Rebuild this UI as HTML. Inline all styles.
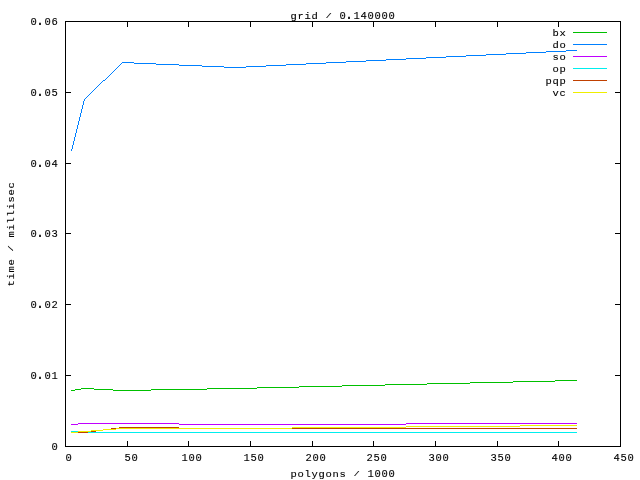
<!DOCTYPE html>
<html lang="en">
<head>
<meta charset="utf-8">
<title>grid / 0.140000</title>
<style>
html,body{margin:0;padding:0;background:#fff;width:640px;height:480px;overflow:hidden}
svg{position:absolute;left:0;top:0;display:block}
text{fill:#000;stroke:#000;white-space:pre}
.a{font-family:'Liberation Mono','DejaVu Sans Mono',monospace;font-size:10.5px;letter-spacing:0.6989px;stroke-width:0.12px}
.d{font-size:15px;stroke-width:0}
.n{font-family:'Liberation Mono','DejaVu Sans Mono',monospace;font-size:10.5px;letter-spacing:0.6989px;stroke-width:0.12px}
</style>
</head>
<body>
<svg width="640" height="480" viewBox="0 0 640 480">
<rect width="640" height="480" fill="#fff"/>
<g shape-rendering="crispEdges">
<g fill="#000"><rect x="65" y="21" width="556" height="1"/><rect x="65" y="446" width="556" height="1"/><rect x="65" y="21" width="1" height="426"/><rect x="620" y="21" width="1" height="426"/></g>
<g fill="#000"><rect x="127" y="441" width="1" height="6"/><rect x="127" y="21" width="1" height="6"/><rect x="188" y="441" width="1" height="6"/><rect x="188" y="21" width="1" height="6"/><rect x="250" y="441" width="1" height="6"/><rect x="250" y="21" width="1" height="6"/><rect x="312" y="441" width="1" height="6"/><rect x="312" y="21" width="1" height="6"/><rect x="373" y="441" width="1" height="6"/><rect x="373" y="21" width="1" height="6"/><rect x="435" y="441" width="1" height="6"/><rect x="435" y="21" width="1" height="6"/><rect x="497" y="441" width="1" height="6"/><rect x="497" y="21" width="1" height="6"/><rect x="558" y="441" width="1" height="6"/><rect x="558" y="21" width="1" height="6"/><rect x="65" y="375" width="6" height="1"/><rect x="615" y="375" width="6" height="1"/><rect x="65" y="304" width="6" height="1"/><rect x="615" y="304" width="6" height="1"/><rect x="65" y="233" width="6" height="1"/><rect x="615" y="233" width="6" height="1"/><rect x="65" y="163" width="6" height="1"/><rect x="615" y="163" width="6" height="1"/><rect x="65" y="92" width="6" height="1"/><rect x="615" y="92" width="6" height="1"/></g>
<g fill="#00c000"><rect x="573" y="32" width="34" height="1"/><rect x="71" y="390" width="4" height="1"/><rect x="75" y="389" width="6" height="1"/><rect x="81" y="388" width="13" height="1"/><rect x="94" y="389" width="19" height="1"/><rect x="113" y="390" width="38" height="1"/><rect x="151" y="389" width="56" height="1"/><rect x="207" y="388" width="50" height="1"/><rect x="257" y="387" width="42" height="1"/><rect x="299" y="386" width="43" height="1"/><rect x="342" y="385" width="43" height="1"/><rect x="385" y="384" width="42" height="1"/><rect x="427" y="383" width="43" height="1"/><rect x="470" y="382" width="43" height="1"/><rect x="513" y="381" width="42" height="1"/><rect x="555" y="380" width="22" height="1"/></g>
<g fill="#0080ff"><rect x="573" y="44" width="34" height="1"/><rect x="71" y="149" width="1" height="2"/><rect x="72" y="145" width="1" height="4"/><rect x="73" y="141" width="1" height="4"/><rect x="74" y="137" width="1" height="4"/><rect x="75" y="133" width="1" height="4"/><rect x="76" y="129" width="1" height="4"/><rect x="77" y="125" width="1" height="4"/><rect x="78" y="121" width="1" height="4"/><rect x="79" y="117" width="1" height="4"/><rect x="80" y="113" width="1" height="4"/><rect x="81" y="109" width="1" height="4"/><rect x="82" y="105" width="1" height="4"/><rect x="83" y="101" width="1" height="4"/><rect x="84" y="99" width="1" height="2"/><rect x="85" y="98" width="1" height="1"/><rect x="86" y="97" width="1" height="1"/><rect x="87" y="96" width="1" height="1"/><rect x="88" y="95" width="1" height="1"/><rect x="89" y="94" width="1" height="1"/><rect x="90" y="93" width="1" height="1"/><rect x="91" y="92" width="1" height="1"/><rect x="92" y="91" width="1" height="1"/><rect x="93" y="90" width="1" height="1"/><rect x="94" y="89" width="1" height="1"/><rect x="95" y="88" width="1" height="1"/><rect x="96" y="87" width="1" height="1"/><rect x="97" y="86" width="1" height="1"/><rect x="98" y="85" width="1" height="1"/><rect x="99" y="84" width="1" height="1"/><rect x="100" y="83" width="1" height="1"/><rect x="101" y="82" width="1" height="1"/><rect x="102" y="81" width="1" height="1"/><rect x="103" y="80" width="2" height="1"/><rect x="105" y="79" width="1" height="1"/><rect x="106" y="78" width="1" height="1"/><rect x="107" y="77" width="1" height="1"/><rect x="108" y="76" width="1" height="1"/><rect x="109" y="75" width="1" height="1"/><rect x="110" y="74" width="1" height="1"/><rect x="111" y="73" width="1" height="1"/><rect x="112" y="72" width="1" height="1"/><rect x="113" y="71" width="1" height="1"/><rect x="114" y="70" width="1" height="1"/><rect x="115" y="69" width="1" height="1"/><rect x="116" y="68" width="1" height="1"/><rect x="117" y="67" width="1" height="1"/><rect x="118" y="66" width="1" height="1"/><rect x="119" y="65" width="1" height="1"/><rect x="120" y="64" width="1" height="1"/><rect x="121" y="63" width="1" height="1"/><rect x="122" y="62" width="12" height="1"/><rect x="134" y="63" width="22" height="1"/><rect x="156" y="64" width="23" height="1"/><rect x="179" y="65" width="23" height="1"/><rect x="202" y="66" width="22" height="1"/><rect x="224" y="67" width="22" height="1"/><rect x="246" y="66" width="20" height="1"/><rect x="266" y="65" width="20" height="1"/><rect x="286" y="64" width="20" height="1"/><rect x="306" y="63" width="20" height="1"/><rect x="326" y="62" width="20" height="1"/><rect x="346" y="61" width="20" height="1"/><rect x="366" y="60" width="20" height="1"/><rect x="386" y="59" width="20" height="1"/><rect x="406" y="58" width="20" height="1"/><rect x="426" y="57" width="20" height="1"/><rect x="446" y="56" width="20" height="1"/><rect x="466" y="55" width="20" height="1"/><rect x="486" y="54" width="20" height="1"/><rect x="506" y="53" width="20" height="1"/><rect x="526" y="52" width="20" height="1"/><rect x="546" y="51" width="20" height="1"/><rect x="566" y="50" width="11" height="1"/></g>
<g fill="#c000ff"><rect x="573" y="56" width="34" height="1"/><rect x="71" y="424" width="7" height="1"/><rect x="78" y="423" width="101" height="1"/><rect x="179" y="424" width="227" height="1"/><rect x="406" y="423" width="171" height="1"/></g>
<g fill="#00eeee"><rect x="573" y="68" width="34" height="1"/><rect x="71" y="431" width="7" height="1"/><rect x="78" y="432" width="499" height="1"/></g>
<g fill="#c04000"><rect x="573" y="80" width="34" height="1"/><rect x="71" y="432" width="17" height="1"/><rect x="88" y="431" width="8" height="1"/><rect x="96" y="430" width="7" height="1"/><rect x="103" y="429" width="8" height="1"/><rect x="111" y="428" width="8" height="1"/><rect x="119" y="427" width="60" height="1"/><rect x="179" y="428" width="398" height="1"/></g>
<g fill="#eeee00"><rect x="573" y="92" width="34" height="1"/><rect x="71" y="432" width="7" height="1"/><rect x="78" y="431" width="13" height="1"/><rect x="91" y="430" width="12" height="1"/><rect x="103" y="429" width="13" height="1"/><rect x="116" y="428" width="176" height="1"/><rect x="292" y="427" width="114" height="1"/><rect x="406" y="426" width="114" height="1"/><rect x="520" y="425" width="57" height="1"/></g>
</g>
<g>
<text class="n" transform="translate(51.4 450)">0</text>
<text class="n" transform="translate(30.4 379)">0<tspan class="d" x="5.11">.</tspan><tspan x="14">01</tspan></text>
<text class="n" transform="translate(30.4 308)">0<tspan class="d" x="5.11">.</tspan><tspan x="14">02</tspan></text>
<text class="n" transform="translate(30.4 237)">0<tspan class="d" x="5.11">.</tspan><tspan x="14">03</tspan></text>
<text class="n" transform="translate(30.4 167)">0<tspan class="d" x="5.11">.</tspan><tspan x="14">04</tspan></text>
<text class="n" transform="translate(30.4 96)">0<tspan class="d" x="5.11">.</tspan><tspan x="14">05</tspan></text>
<text class="n" transform="translate(30.4 25)">0<tspan class="d" x="5.11">.</tspan><tspan x="14">06</tspan></text>
<text class="n" transform="translate(65.4 461)">0</text>
<text class="n" transform="translate(124.4 461)">50</text>
<text class="n" transform="translate(181.4 461)">100</text>
<text class="n" transform="translate(243.4 461)">150</text>
<text class="n" transform="translate(305.4 461)">200</text>
<text class="n" transform="translate(366.4 461)">250</text>
<text class="n" transform="translate(428.4 461)">300</text>
<text class="n" transform="translate(490.4 461)">350</text>
<text class="n" transform="translate(551.4 461)">400</text>
<text class="n" transform="translate(613.4 461)">450</text>
<text class="a" transform="translate(552.5 36) scale(1 0.905)">bx</text>
<text class="a" transform="translate(552.5 48) scale(1 0.905)">do</text>
<text class="a" transform="translate(552.5 60) scale(1 0.905)">so</text>
<text class="a" transform="translate(552.5 72) scale(1 0.905)">op</text>
<text class="a" transform="translate(545.5 84) scale(1 0.905)">pqp</text>
<text class="a" transform="translate(552.5 96) scale(1 0.905)">vc</text>
<text class="a" transform="translate(290.5 19) scale(1 0.905)">grid</text>
<text class="a" transform="translate(329 18) scale(1 0.7) translate(-3.5 0)">/</text>
<text class="n" transform="translate(339.4 19)">0<tspan class="d" x="5.11">.</tspan><tspan x="14">140000</tspan></text>
<text class="a" transform="translate(290.5 477) scale(1 0.905)">polygons</text>
<text class="a" transform="translate(357 476) scale(1 0.7) translate(-3.5 0)">/</text>
<text class="n" transform="translate(367.4 477)">1000</text>
<text class="a" transform="translate(14 287) rotate(-90) translate(0.5 0) scale(1 0.905)">time</text>
<text class="a" transform="translate(14 287) rotate(-90) translate(39 -1) scale(1 0.7) translate(-3.5 0)">/</text>
<text class="a" transform="translate(14 287) rotate(-90) translate(49.5 0) scale(1 0.905)">millisec</text>
</g>
</svg>
</body>
</html>
